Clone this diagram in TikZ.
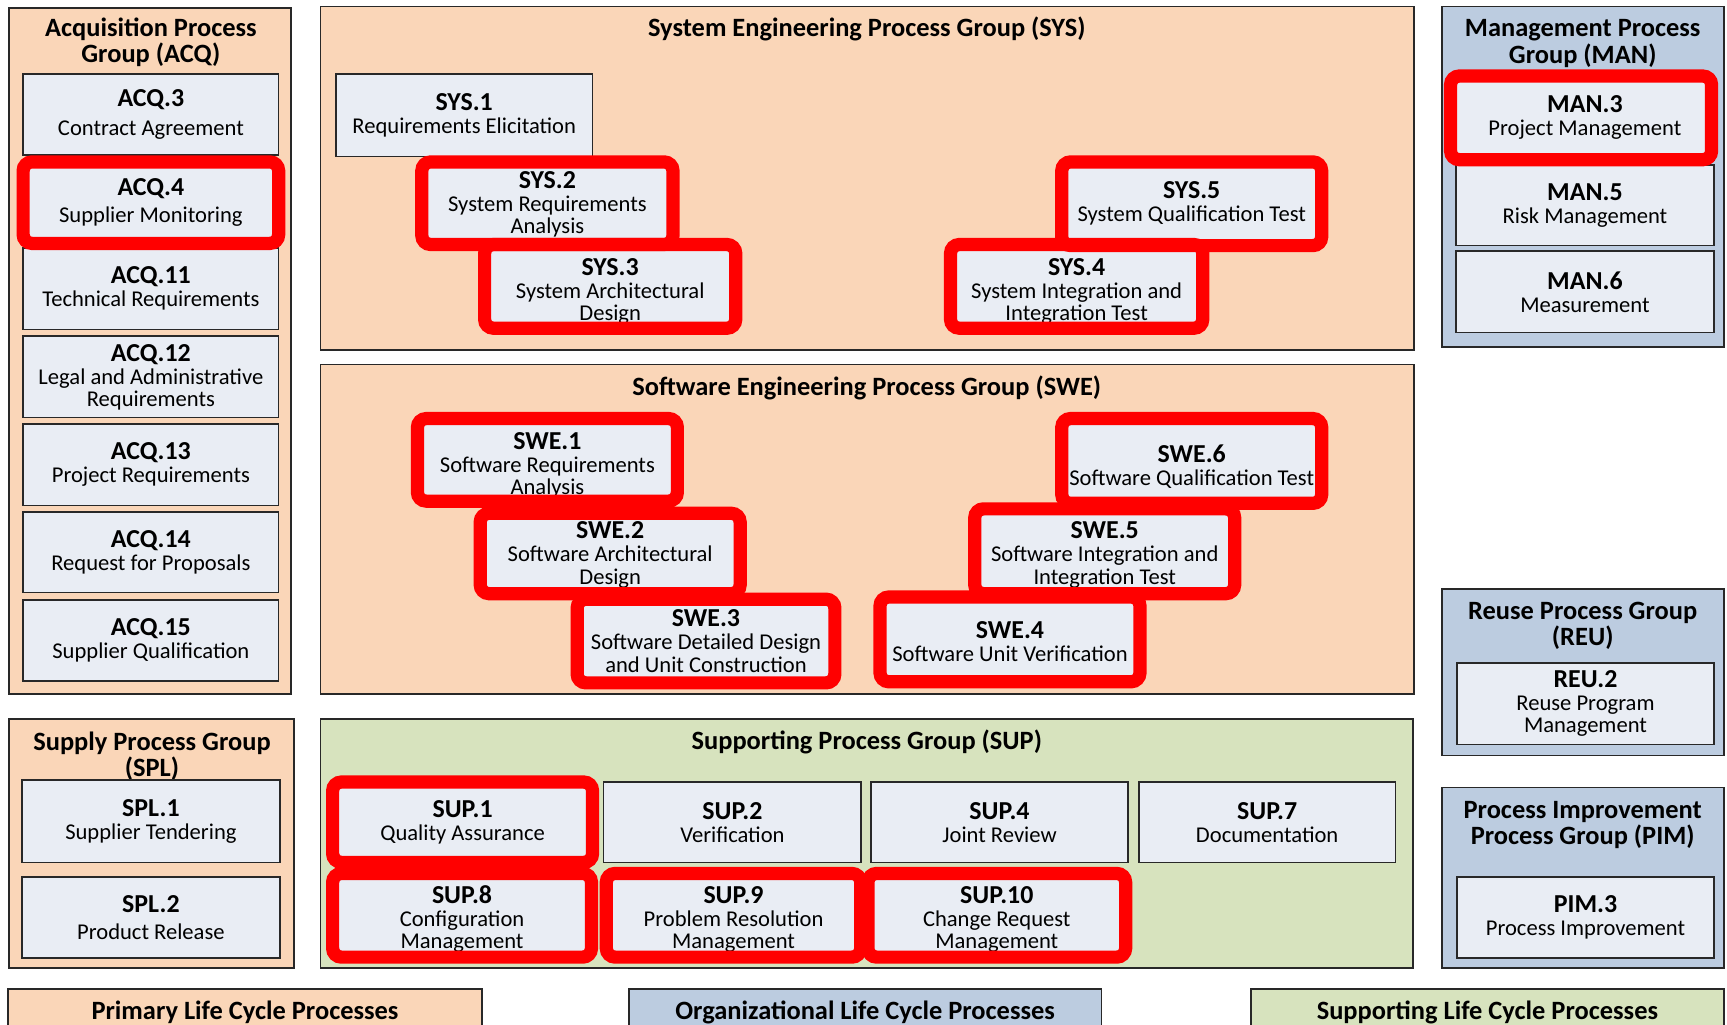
\documentclass[tikz,border=0pt]{standalone}
\usepackage{fontspec}
\setmainfont{Carlito}
\usetikzlibrary{fit}
\definecolor{peach}{RGB}{250,214,184}
\definecolor{grpblue}{RGB}{188,204,224}
\definecolor{grpgreen}{RGB}{215,227,190}
\definecolor{boxfill}{RGB}{233,237,244}
\definecolor{edgecol}{RGB}{40,40,40}
\newcommand\idf{\fontsize{23.5}{24}\selectfont\bfseries}
\newcommand\lift[1]{\rule{0pt}{#1pt}}
\begin{document}
\begin{tikzpicture}[x=1pt,y=-1pt,
  grp/.style={draw=edgecol, line width=1.5pt, inner sep=0pt, outer sep=0pt},
  box/.style={draw=edgecol, line width=1.5pt, fill=boxfill, inner sep=0pt, outer sep=0pt, align=center, font=\fontsize{20.5}{20}\selectfont},
  gtitle/.style={align=center, font=\fontsize{24}{24}\selectfont\bfseries, inner sep=0pt},
  legtext/.style={font=\fontsize{24}{24}\selectfont\bfseries, inner sep=0pt},
  hl/.style={draw=red, line width=12pt, rounded corners=8pt, inner sep=0pt, outer sep=0pt}]
\useasboundingbox (0,0) rectangle (1568,930);
\clip (0,0) rectangle (1568,930);
\fill[white] (0,0) rectangle (1568,930);
% groups
\node[grp, fill=peach, minimum width=256, minimum height=623] (acq) at (136,318.5) {};
\node[grp, fill=peach, minimum width=993, minimum height=312] (sys) at (787.5,162) {};
\node[grp, fill=peach, minimum width=993, minimum height=299] (swe) at (787.5,480.5) {};
\node[grp, fill=grpblue, minimum width=256, minimum height=309] (man) at (1437,160.5) {};
\node[grp, fill=grpblue, minimum width=256, minimum height=151] (reu) at (1437,610.5) {};
\node[grp, fill=grpblue, minimum width=256, minimum height=164] (pim) at (1437,797) {};
\node[grp, fill=peach, minimum width=259, minimum height=226] (spl) at (137.5,766) {};
\node[grp, fill=grpgreen, minimum width=992, minimum height=226] (sup) at (787,766) {};
% titles
\node[gtitle] (acqT) at (137,38.5) {Acquisition Process\\Group (ACQ)};
\node[gtitle] (sysT) at (787,26.5) {System Engineering Process Group (SYS)};
\node[gtitle] (sweT) at (787,352) {Software Engineering Process Group (SWE)};
\node[gtitle] (manT) at (1437,39.5) {Management Process\\Group (MAN)};
\node[gtitle] (reuT) at (1437,568) {Reuse Process Group\\(REU)};
\node[gtitle] (pimT) at (1437,749) {Process Improvement\\Process Group (PIM)};
\node[gtitle] (splT) at (138,686.5) {Supply Process Group\\(SPL)};
\node[gtitle] (supT) at (787,674) {Supporting Process Group (SUP)};
% ACQ boxes
\node[box, minimum width=232, minimum height=74] (acq3) at (137,104) {{\idf ACQ.3}\\[7pt]Contract Agreement};
\node[box, minimum width=232, minimum height=74] (acq4) at (137,184) {{\idf ACQ.4}\\[5pt]Supplier Monitoring};
\node[box, minimum width=232, minimum height=74] (acq11) at (137,262) {{\idf ACQ.11}\\[1pt]Technical Requirements};
\node[box, minimum width=232, minimum height=74] (acq12) at (137,342) {{\idf\lift{17}ACQ.12}\\[1pt]Legal and Administrative\\Requirements};
\node[box, minimum width=232, minimum height=74] (acq13) at (137,422) {{\idf ACQ.13}\\[1pt]Project Requirements};
\node[box, minimum width=232, minimum height=73] (acq14) at (137,501.5) {{\idf ACQ.14}\\[1pt]Request for Proposals};
\node[box, minimum width=232, minimum height=73] (acq15) at (137,581.5) {{\idf ACQ.15}\\[1pt]Supplier Qualification};
% SYS boxes
\node[box, minimum width=233, minimum height=75] (sys1) at (421.5,104.5) {{\idf SYS.1}\\[1pt]Requirements Elicitation};
\node[box, minimum width=228, minimum height=75] (sys2) at (497,184.5) {{\idf\lift{17}SYS.2}\\[1pt]System Requirements\\Analysis};
\node[box, minimum width=228, minimum height=76] (sys3) at (554,260) {{\idf\lift{24}SYS.3}\\[1pt]System Architectural\\Design};
\node[box, minimum width=236, minimum height=76] (sys5) at (1082,185) {{\idf SYS.5}\\[1pt]System Qualification Test};
\node[box, minimum width=229, minimum height=76] (sys4) at (977.5,260) {{\idf\lift{24}SYS.4}\\[1pt]System Integration and\\Integration Test};
% SWE boxes
\node[box, minimum width=236, minimum height=75] (swe1) at (497,417.5) {{\idf\lift{25}SWE.1}\\[1pt]Software Requirements\\Analysis};
\node[box, minimum width=236, minimum height=73] (swe2) at (554,502.5) {{\idf\lift{18}SWE.2}\\[1pt]Software Architectural\\Design};
\node[box, minimum width=234, minimum height=76] (swe3) at (641,582) {{\idf SWE.3}\\[1pt]Software Detailed Design\\and Unit Construction};
\node[box, minimum width=236, minimum height=77] (swe6) at (1082,418.5) {{\idf\lift{26}SWE.6}\\[1pt]Software Qualification Test};
\node[box, minimum width=236, minimum height=77] (swe5) at (1003,500.5) {{\idf\lift{22}SWE.5}\\[1pt]Software Integration and\\Integration Test};
\node[box, minimum width=236, minimum height=77] (swe4) at (917,580.5) {{\idf\lift{19}SWE.4}\\[1pt]Software Unit Verification};
% MAN boxes
\node[box, minimum width=234, minimum height=76] (man3) at (1439,107) {{\idf MAN.3}\\[1pt]Project Management};
\node[box, minimum width=234, minimum height=73] (man5) at (1439,186.5) {{\idf MAN.5}\\[1pt]Risk Management};
\node[box, minimum width=234, minimum height=74] (man6) at (1439,265) {{\idf MAN.6}\\[1pt]Measurement};
% REU, PIM
\node[box, minimum width=233, minimum height=74] (reu2) at (1439.5,638.8) {{\idf REU.2}\\[1pt]Reuse Program\\Management};
\node[box, minimum width=233, minimum height=74] (pim3) at (1439.5,833) {{\idf PIM.3}\\[1pt]Process Improvement};
% SPL
\node[box, minimum width=234, minimum height=75] (spl1) at (137,745.5) {{\idf SPL.1}\\[1pt]Supplier Tendering};
\node[box, minimum width=234, minimum height=74] (spl2) at (137,833) {{\idf SPL.2}\\[5pt]Product Release};
% SUP
\node[box, minimum width=236, minimum height=73] (sup1) at (420,746.5) {{\idf SUP.1}\\[1pt]Quality Assurance};
\node[box, minimum width=234, minimum height=73] (sup2) at (665,746.5) {{\idf SUP.2}\\[1pt]Verification};
\node[box, minimum width=233, minimum height=73] (sup4) at (907.5,746.5) {{\idf SUP.4}\\[1pt]Joint Review};
\node[box, minimum width=233, minimum height=73] (sup7) at (1150.5,746.5) {{\idf SUP.7}\\[1pt]Documentation};
\node[box, minimum width=235, minimum height=76] (sup8) at (419.5,831) {{\idf\lift{23}SUP.8}\\[1pt]Configuration\\Management};
\node[box, minimum width=231, minimum height=76] (sup9) at (666,831) {{\idf\lift{23}SUP.9}\\[1pt]Problem Resolution\\Management};
\node[box, minimum width=234, minimum height=76] (sup10) at (905,831) {{\idf\lift{23}SUP.10}\\[1pt]Change Request\\Management};
% highlights
\node[hl, fit=(acq4)] (acq4h) {};
\node[hl, fit=(sys2)] (sys2h) {};
\node[hl, fit=(sys3)] (sys3h) {};
\node[hl, fit=(sys5)] (sys5h) {};
\node[hl, fit=(sys4)] (sys4h) {};
\node[hl, fit=(swe1)] (swe1h) {};
\node[hl, fit=(swe2)] (swe2h) {};
\node[hl, fit=(swe3)] (swe3h) {};
\node[hl, fit=(swe6)] (swe6h) {};
\node[hl, fit=(swe5)] (swe5h) {};
\node[hl, fit=(swe4)] (swe4h) {};
\node[hl, fit=(man3), inner xsep=1.5pt, xshift=-3.5pt] (man3h) {};
\node[hl, fit=(sup1)] (sup1h) {};
\node[hl, fit=(sup8)] (sup8h) {};
\node[hl, fit=(sup9)] (sup9h) {};
\node[hl, fit=(sup10)] (sup10h) {};
% legend
\node[grp, fill=peach, minimum width=430, minimum height=60] (prim) at (222.5,928) {};
\node[grp, fill=grpblue, minimum width=429, minimum height=60] (org) at (785.5,928) {};
\node[grp, fill=grpgreen, minimum width=429, minimum height=60] (supp) at (1350.5,928) {};
\node[legtext] (primT) at (222.5,919) {Primary Life Cycle Processes};
\node[legtext] (orgT) at (785.5,919) {Organizational Life Cycle Processes};
\node[legtext] (suppT) at (1350.5,919) {Supporting Life Cycle Processes};
\end{tikzpicture}
\end{document}
